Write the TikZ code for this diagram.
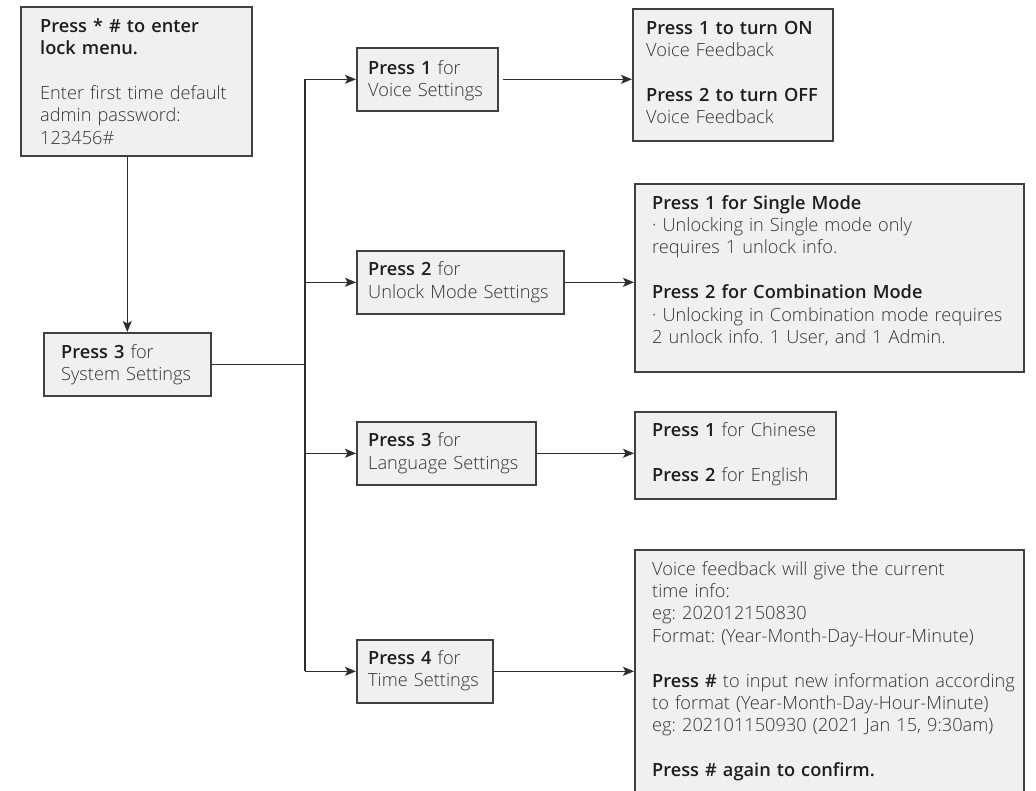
\documentclass[tikz,border=0pt]{standalone}
\usepackage{fontspec}
\IfFontExistsTF{Open Sans Light}{%
  \IfFontExistsTF{Open Sans Semibold}{%
    \setmainfont{Open Sans Light}[BoldFont={Open Sans Semibold}]}{%
    \setmainfont{Open Sans Light}[BoldFont={Open Sans Bold}]}}{%
  \setmainfont{Open Sans}}
\usetikzlibrary{arrows.meta,calc}
\definecolor{boxfill}{HTML}{F0F0F0}
\definecolor{boxline}{HTML}{404040}
\definecolor{linec}{HTML}{2E2E2E}
\definecolor{txtc}{HTML}{333333}
\definecolor{boldc}{HTML}{1E1E1E}
\newcommand{\pb}[1]{{\color{boldc}\bfseries #1}}
\frenchspacing
\begin{document}
\begin{tikzpicture}[x=1pt,y=-1pt,
  box/.style={draw=boxline, fill=boxfill, line width=1.6pt, inner sep=0pt, anchor=north west},
  txt/.style={anchor=base west, inner sep=0pt, align=left, text width=380pt, text=txtc, font=\fontsize{18.2pt}{22.4pt}\selectfont\frenchspacing},
  conn/.style={draw=linec, line width=1.3pt},
  arr/.style={conn, -{Stealth[length=11pt,width=9pt,inset=2.5pt]}}]
\useasboundingbox (0,0) rectangle (1036,790);
\clip (0,0) rectangle (1036,790);

\node[box, minimum width=231pt, minimum height=149pt] (A) at (20,6) {};
\node[txt] (At) at (40,32.3) {\pb{Press * \# to enter\\lock menu.}\\[22.4pt]Enter first time default\\admin password:\\123456\#};

\node[box, minimum width=141pt, minimum height=63pt] (V) at (356,47) {};
\node[txt] (Vt) at (368,74.3) {\pb{Press 1} for\\Voice Settings};

\node[box, minimum width=207pt, minimum height=63pt] (U) at (356,250) {};
\node[txt] (Ut) at (368,275.7) {\pb{Press 2} for\\Unlock Mode Settings};

\node[box, minimum width=167pt, minimum height=63pt] (S) at (43,332) {};
\node[txt] (St) at (61,358) {\pb{Press 3} for\\System Settings};

\node[box, minimum width=179pt, minimum height=63pt] (L) at (356,421) {};
\node[txt] (Lt) at (368,446.7) {\pb{Press 3} for\\Language Settings};

\node[box, minimum width=136pt, minimum height=63pt] (T) at (356,639) {};
\node[txt] (Tt) at (368,664.3) {\pb{Press 4} for\\Time Settings};

\node[box, minimum width=200pt, minimum height=132pt] (VF) at (632,8) {};
\node[txt] (VFt) at (646,34.3) {\pb{Press 1 to turn ON}\\Voice Feedback\\[22.4pt]\pb{Press 2 to turn OFF}\\Voice Feedback};

\node[box, minimum width=389pt, minimum height=188pt] (M) at (634,183) {};
\node[txt] (Mt) at (652,209) {\pb{Press 1 for Single Mode}\\· Unlocking in Single mode only\\requires 1 unlock info.\\[22.4pt]\pb{Press 2 for Combination Mode}\\· Unlocking in Combination mode requires\\2 unlock info. 1 User, and 1 Admin.};

\node[box, minimum width=201pt, minimum height=87pt] (L2) at (634,411) {};
\node[txt] (L2t) at (652,436.7) {\pb{Press 1} for Chinese\\[22.4pt]\pb{Press 2} for English};

\node[box, minimum width=389pt, minimum height=300pt] (T2) at (634,549) {};
\node[txt] (T2t) at (652,575) {Voice feedback will give the current\\time info:\\eg: 202012150830\\Format: (Year-Month-Day-Hour-Minute)\\[22.4pt]\pb{Press \#} to input new information according\\to format (Year-Month-Day-Hour-Minute)\\eg: 202101150930 (2021 Jan 15, 9:30am)\\[22.4pt]\pb{Press \# again to confirm.}};

\coordinate (tr) at (305,0);
\draw[arr] (A.south -| S.north) -- (S.north);
\draw[conn] (S.east) -- (S.east -| tr);
\draw[conn] (V.west -| tr) -- (T.west -| tr);
\draw[arr] (V.west -| tr) -- (V.west);
\draw[arr] (U.west -| tr) -- (U.west);
\draw[arr] (L.west -| tr) -- (L.west);
\draw[arr] (T.west -| tr) -- (T.west);
\draw[arr, shorten <=4pt] (V.east) -- (V.east -| VF.west);
\draw[arr] (U.east) -- (U.east -| M.west);
\draw[arr] (L.east) -- (L.east -| L2.west);
\draw[arr] (T.east) -- (T.east -| T2.west);
\end{tikzpicture}
\end{document}
